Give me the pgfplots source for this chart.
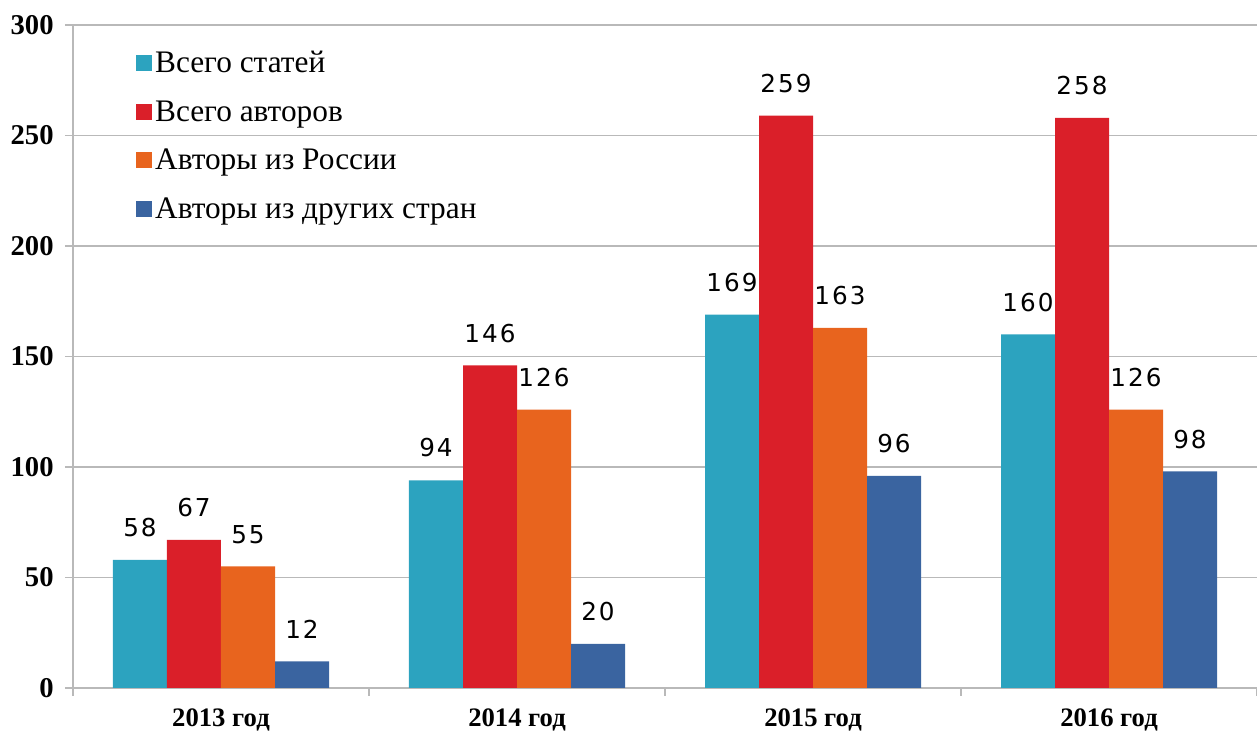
\documentclass[border=0pt]{standalone}
\usepackage{fontspec}
\setmainfont{Liberation Serif}
\newfontfamily\legfont{Liberation Serif}
\newfontfamily\labfont[LetterSpace=8]{DejaVu Sans}
\usepackage{pgfplots}
\pgfplotsset{compat=1.18}
\definecolor{cA}{RGB}{44,163,191}
\definecolor{cB}{RGB}{218,31,41}
\definecolor{cC}{RGB}{232,100,30}
\definecolor{cD}{RGB}{58,100,160}
\definecolor{gridc}{RGB}{185,185,185}
\pgfplotsset{sqlegend/.style={legend image code/.code={\fill[##1,draw=none] (0pt,-6pt) rectangle (12pt,6pt);}}}
\begin{document}
\begin{tikzpicture}
\begin{axis}[
  scale only axis, width=888pt, height=497.25pt,
  ybar=0pt, bar width=40.5pt,
  xmin=-0.5, xmax=3.5, ymin=0, ymax=300,
  ytick={0,50,...,300},
  xtick={-0.5,0.5,1.5,2.5,3.5},
  x tick label as interval,
  xticklabels={2013 год,2014 год,2015 год,2016 год},
  tick align=outside,
  major tick length=6pt,
  axis x line*=bottom, axis y line*=left,
  axis line style={draw=gridc, line width=0.9pt},
  tick style={draw=gridc, line width=0.9pt},
  ymajorgrids, major grid style={draw=gridc, line width=0.9pt},
  /pgf/number format/assume math mode=true,
  yticklabel style={font=\bfseries\fontsize{21.5}{22}\selectfont, xshift=-5pt},
  xticklabel style={font=\bfseries\fontsize{20}{22}\selectfont, yshift=-6pt},
  nodes near coords={\labfont\pgfmathprintnumber{\pgfplotspointmeta}},
  every node near coord/.append style={font=\fontsize{18.5}{20}\selectfont, anchor=south, inner sep=0pt, yshift=17pt, text=black},
  legend style={draw=none, fill=none, at={(0.05,0.969)}, anchor=north west,
    font=\legfont\fontsize{23.5}{26}\selectfont, row sep=15.5pt, cells={anchor=west}},
  legend cell align=left,
]
\addplot[fill=cA, draw=none, sqlegend] coordinates {(0,58) (1,94) (2,169) (3,160)};
\addplot[fill=cB, draw=none, sqlegend] coordinates {(0,67) (1,146) (2,259) (3,258)};
\addplot[fill=cC, draw=none, sqlegend] coordinates {(0,55) (1,126) (2,163) (3,126)};
\addplot[fill=cD, draw=none, sqlegend] coordinates {(0,12) (1,20) (2,96) (3,98)};
\legend{Всего статей, Всего авторов, Авторы из России, Авторы из других стран}
\end{axis}
\pgfresetboundingbox
\path[use as bounding box] (-54.75pt,-32.25pt) rectangle (888pt,516pt);
\end{tikzpicture}
\end{document}
